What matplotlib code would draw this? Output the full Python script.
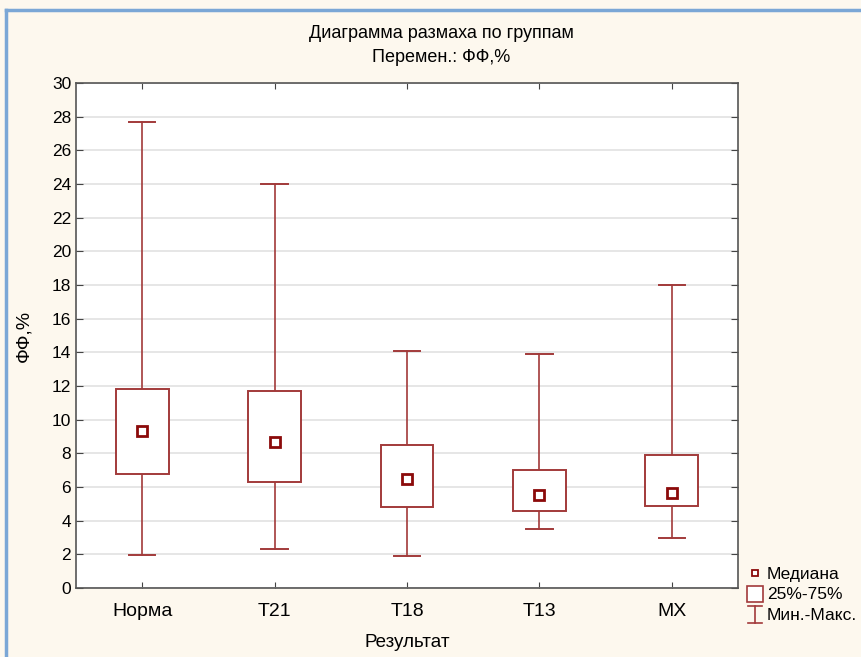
import matplotlib.pyplot as plt
from matplotlib.lines import Line2D
from matplotlib.patches import Rectangle
from matplotlib.legend_handler import HandlerBase

# Data
groups = ['Норма', 'T21', 'T18', 'T13', 'MX']
mins = [1.95, 2.3, 1.9, 3.5, 2.95]
q1 = [6.75, 6.3, 4.8, 4.55, 4.85]
medians = [9.35, 8.7, 6.45, 5.55, 5.65]
q3 = [11.8, 11.7, 8.5, 7.0, 7.9]
maxs = [27.7, 24.0, 14.1, 13.9, 18.0]

BOX_COLOR = '#A23A3A'
MED_COLOR = '#8B0A0A'
BG = '#FDF8EE'

plt.rcParams['font.family'] = ['Liberation Sans', 'DejaVu Sans']

fig = plt.figure(figsize=(8.61, 6.57), dpi=100, facecolor=BG)
ax = fig.add_axes([76 / 861, 1 - 588 / 657, 662 / 861, 505 / 657])
ax.set_facecolor('white')

box_w = 0.4
cap_w = 0.2
for i in range(len(groups)):
    ax.plot([i, i], [mins[i], q1[i]], color=BOX_COLOR, lw=1.2, zorder=2)
    ax.plot([i, i], [q3[i], maxs[i]], color=BOX_COLOR, lw=1.2, zorder=2)
    ax.plot([i - cap_w / 2, i + cap_w / 2], [mins[i], mins[i]], color=BOX_COLOR, lw=1.4, zorder=2)
    ax.plot([i - cap_w / 2, i + cap_w / 2], [maxs[i], maxs[i]], color=BOX_COLOR, lw=1.4, zorder=2)
    ax.add_patch(Rectangle((i - box_w / 2, q1[i]), box_w, q3[i] - q1[i],
                           facecolor='white', edgecolor=BOX_COLOR, lw=1.4, zorder=3))
ax.plot(range(len(groups)), medians, linestyle='none', marker='s', markersize=7,
        markerfacecolor='white', markeredgecolor=MED_COLOR, markeredgewidth=2, zorder=4)

ax.set_xlim(-0.5, len(groups) - 0.5)
ax.set_ylim(0, 30)
ax.set_yticks(range(0, 31, 2))
ax.set_xticks(range(len(groups)))
ax.set_xticklabels(groups, fontsize=14)
ax.tick_params(axis='y', labelsize=12.5, direction='in', length=5, right=True, color='#444444')
ax.tick_params(axis='x', direction='in', length=4, top=True, color='#444444', pad=11)
ax.grid(axis='y', color='#E2E2E2', lw=1.2, zorder=0)
ax.set_axisbelow(True)
for s in ax.spines.values():
    s.set_color('#555555')
    s.set_linewidth(1.2)

ax.set_ylabel('ФФ,%', fontsize=14, labelpad=14)
ax.set_xlabel('Результат', fontsize=13.5, labelpad=10)
fig.text(0.5 * (76 + 806) / 861, 1 - 33 / 657, 'Диаграмма размаха по группам',
         ha='center', va='center', fontsize=13)
fig.text(0.5 * (76 + 806) / 861, 1 - 58 / 657, 'Перемен.: ФФ,%',
         ha='center', va='center', fontsize=13)

# window frame lines of the screenshot
fig.add_artist(Line2D([6 / 861, 6 / 861], [0, 1 - 10 / 657], color='#7BA7D6', lw=2.5))
fig.add_artist(Line2D([6 / 861, 1], [1 - 10 / 657, 1 - 10 / 657], color='#7BA7D6', lw=2.5))


class WhiskerHandler(HandlerBase):
    def create_artists(self, legend, orig, xd, yd, w, h, fs, trans):
        cx = xd + w / 2
        v = Line2D([cx, cx], [yd - 2, yd + h + 1], color=BOX_COLOR, lw=1.2, transform=trans)
        t = Line2D([cx - 5, cx + 5], [yd + h + 1, yd + h + 1], color=BOX_COLOR, lw=1.2, transform=trans)
        b = Line2D([cx - 5, cx + 5], [yd - 2, yd - 2], color=BOX_COLOR, lw=1.2, transform=trans)
        return [v, t, b]


class BoxHandler(HandlerBase):
    def create_artists(self, legend, orig, xd, yd, w, h, fs, trans):
        cx = xd + w / 2
        r = Rectangle((cx - 6, yd - 2), 12, h + 3, facecolor='white',
                      edgecolor=BOX_COLOR, lw=1.2, transform=trans)
        return [r]


med_h = Line2D([], [], linestyle='none', marker='s', markersize=5,
               markerfacecolor='white', markeredgecolor=MED_COLOR, markeredgewidth=1.3)
box_h = Rectangle((0, 0), 1, 1)
wh_h = Line2D([], [])
fig.legend([med_h, box_h, wh_h], ['Медиана', '25%-75%', 'Мин.-Макс.'],
           handler_map={box_h: BoxHandler(), wh_h: WhiskerHandler()},
           loc='upper left', bbox_to_anchor=(741 / 861, 1 - 560 / 657),
           frameon=False, fontsize=12.5, handlelength=0.8, handletextpad=0.3,
           labelspacing=0.3, borderpad=0.2, borderaxespad=0.2)

fig.savefig('out.png', dpi=100, facecolor=BG)
